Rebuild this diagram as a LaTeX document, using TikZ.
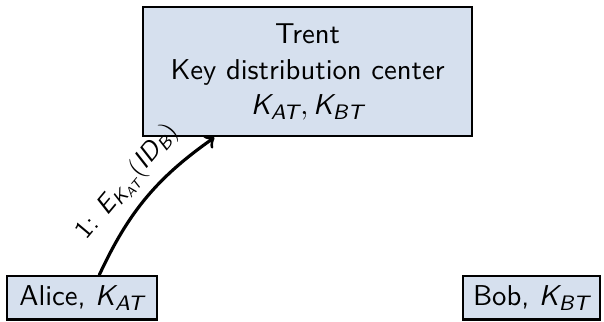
\documentclass[11pt,tikz,border=0pt]{standalone}
\usepackage{amsmath}
\usepackage{tikz}
\usetikzlibrary{calc}
\renewcommand{\familydefault}{\sfdefault}
\definecolor{boxblue}{RGB}{214,224,238}

\begin{document}
\begin{tikzpicture}[
    party/.style={draw, thick, fill=boxblue, inner sep=3pt},
    msg/.style={->, very thick}]
    \useasboundingbox (0,0) rectangle (8.10,4.31);
    \node[party, minimum width=4.41cm, minimum height=1.73cm, align=center] (trent) at (4.125,3.345)
        {Trent\\Key distribution center\\$\textit{K}_{\textit{AT}},\textit{K}_{\textit{BT}}$};
    \node[party, minimum width=2.01cm, minimum height=0.58cm] (alice) at (1.10,0.315)
        {Alice, $\textit{K}_{\textit{AT}}$};
    \node[party, minimum width=1.84cm, minimum height=0.58cm] (bob) at (7.13,0.315)
        {Bob, $\textit{K}_{\textit{BT}}$};
    \draw[msg] ([xshift=0.23cm]alice.north) to[bend left=15]
        node[sloped, above, font=\small] {1: $\textit{E}_{\textit{K}_{\textit{AT}}}(\textit{ID}_{\textit{B}})$}
        ([xshift=-1.25cm]trent.south);
\end{tikzpicture}
\end{document}
